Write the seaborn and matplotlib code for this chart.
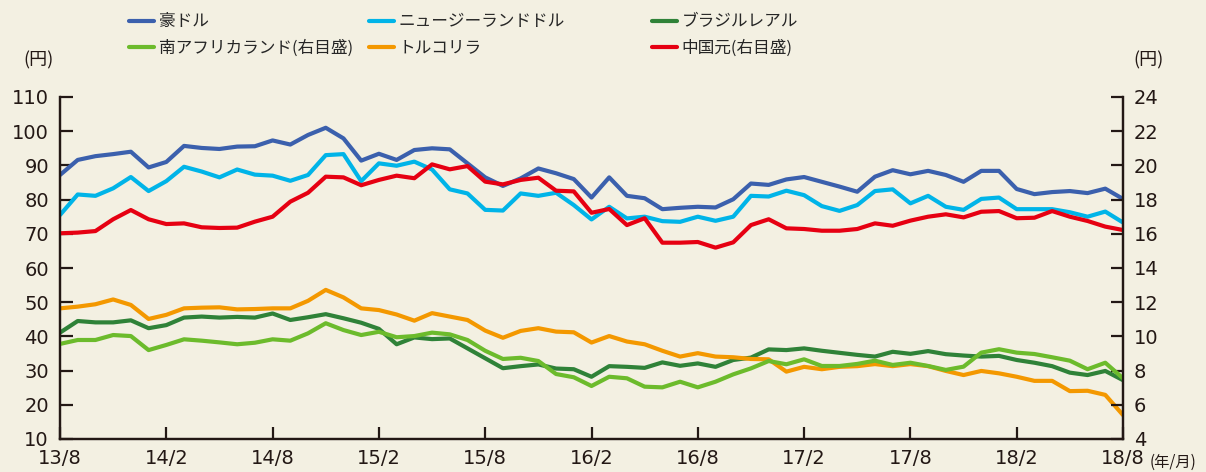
import numpy as np
import pandas as pd
import seaborn as sns
import matplotlib.pyplot as plt

# 月次データ 2013/8 - 2018/8
months = pd.date_range('2013-08-01', periods=61, freq='MS')
tick_labels = ['13/8', '14/2', '14/8', '15/2', '15/8', '16/2', '16/8', '17/2', '17/8', '18/2', '18/8']

# 左目盛（円）
aud = [87.2, 91.6, 92.7, 93.3, 94.0, 89.4, 91.0, 95.7, 95.1, 94.8,
       95.5, 95.6, 97.3, 96.1, 98.9, 101.0, 97.9, 91.4, 93.4, 91.6,
       94.5, 95.0, 94.7, 90.6, 86.5, 84.0, 86.2, 89.1, 87.7, 86.0,
       80.6, 86.5, 81.1, 80.4, 77.2, 77.6, 77.9, 77.7, 80.1, 84.7,
       84.3, 85.9, 86.6, 85.2, 83.8, 82.3, 86.7, 88.6, 87.4, 88.4,
       87.2, 85.2, 88.4, 88.4, 83.1, 81.6, 82.2, 82.5, 81.9, 83.2, 80.2]
nzd = [75.5, 81.5, 81.1, 83.3, 86.6, 82.5, 85.4, 89.6, 88.2, 86.5,
       88.8, 87.3, 87.0, 85.5, 87.2, 93.0, 93.3, 85.4, 90.6, 89.9,
       91.1, 88.8, 83.0, 81.8, 77.0, 76.8, 81.8, 81.1, 82.0, 78.4,
       74.2, 77.9, 74.5, 75.0, 73.7, 73.5, 75.0, 73.8, 75.0, 81.1,
       80.9, 82.6, 81.3, 78.1, 76.7, 78.4, 82.5, 83.0, 78.9, 81.1,
       77.9, 77.0, 80.2, 80.6, 77.2, 77.2, 77.2, 76.3, 75.0, 76.5, 73.3]
brl = [41.1, 44.5, 44.1, 44.1, 44.7, 42.4, 43.3, 45.5, 45.8, 45.5,
       45.7, 45.5, 46.7, 44.8, 45.6, 46.5, 45.3, 44.0, 42.2, 37.7,
       39.7, 39.2, 39.4, 36.5, 33.6, 30.7, 31.3, 31.8, 30.6, 30.4,
       28.2, 31.3, 31.1, 30.8, 32.4, 31.4, 32.1, 31.1, 33.1, 33.8,
       36.2, 36.0, 36.5, 35.8, 35.2, 34.6, 34.1, 35.5, 34.9, 35.7,
       34.8, 34.4, 34.1, 34.3, 33.1, 32.3, 31.3, 29.4, 28.7, 29.9, 27.2]
tryl = [48.2, 48.7, 49.4, 50.8, 49.2, 45.1, 46.3, 48.2, 48.4, 48.5,
        47.9, 48.0, 48.2, 48.2, 50.4, 53.6, 51.4, 48.2, 47.7, 46.4,
        44.6, 46.8, 45.8, 44.8, 41.7, 39.6, 41.6, 42.4, 41.4, 41.2,
        38.2, 40.1, 38.5, 37.7, 35.8, 34.1, 35.1, 34.1, 33.9, 33.4,
        33.3, 29.7, 31.1, 30.4, 31.1, 31.3, 31.9, 31.3, 31.9, 31.3,
        29.9, 28.7, 29.9, 29.2, 28.2, 27.0, 27.0, 24.0, 24.1, 22.9, 17.0]

# 右目盛（円）
zar = [9.56, 9.79, 9.79, 10.08, 10.02, 9.20, 9.50, 9.83, 9.75, 9.65,
       9.54, 9.63, 9.83, 9.75, 10.18, 10.77, 10.37, 10.08, 10.27, 9.95,
       10.02, 10.22, 10.12, 9.79, 9.16, 8.68, 8.75, 8.56, 7.80, 7.61,
       7.10, 7.64, 7.55, 7.06, 7.02, 7.35, 7.02, 7.35, 7.78, 8.13,
       8.56, 8.37, 8.66, 8.27, 8.27, 8.39, 8.58, 8.33, 8.46, 8.27,
       8.04, 8.23, 9.05, 9.25, 9.05, 8.97, 8.78, 8.58, 8.08, 8.46, 7.55]
cny = [16.03, 16.07, 16.16, 16.85, 17.39, 16.85, 16.57, 16.61, 16.38, 16.34,
       16.36, 16.71, 17.00, 17.88, 18.40, 19.34, 19.30, 18.84, 19.15, 19.40,
       19.25, 20.06, 19.77, 19.96, 19.05, 18.89, 19.15, 19.28, 18.52, 18.48,
       17.23, 17.45, 16.51, 16.91, 15.48, 15.48, 15.52, 15.19, 15.50, 16.51,
       16.85, 16.32, 16.28, 16.18, 16.18, 16.28, 16.61, 16.47, 16.77, 17.00,
       17.14, 16.96, 17.29, 17.33, 16.91, 16.94, 17.33, 17.00, 16.75, 16.42, 16.22]

bg = '#F3F0E2'
ink = '#231815'
sns.set_style('white')
plt.rcParams['font.family'] = ['Noto Sans CJK JP', 'DejaVu Sans']

idx = np.arange(len(months))

fig = plt.figure(figsize=(12.06, 4.72), dpi=100, facecolor=bg)
ax = fig.add_axes([60 / 1206, 1 - 439 / 472, 1063 / 1206, 342 / 472])
ax.set_facecolor(bg)
ax2 = ax.twinx()

lw = 3
sns.lineplot(x=idx, y=aud, ax=ax, color='#3B60AD', lw=lw, label='豪ドル')
sns.lineplot(x=idx, y=nzd, ax=ax, color='#00B4E8', lw=lw, label='ニュージーランドドル')
sns.lineplot(x=idx, y=brl, ax=ax, color='#2F8238', lw=lw, label='ブラジルレアル')
sns.lineplot(x=idx, y=tryl, ax=ax, color='#F39800', lw=lw, label='トルコリラ')
sns.lineplot(x=idx, y=zar, ax=ax2, color='#6CBB2C', lw=lw, label='南アフリカランド(右目盛)')
sns.lineplot(x=idx, y=cny, ax=ax2, color='#E60012', lw=lw, label='中国元(右目盛)')

h1, l1 = ax.get_legend_handles_labels()
h2, l2 = ax2.get_legend_handles_labels()
ax.get_legend().remove()
ax2.get_legend().remove()
hd = dict(zip(l1 + l2, h1 + h2))

# 凡例は3列、列ごとに位置を合わせる
cols = [(['豪ドル', '南アフリカランド(右目盛)'], 126),
        (['ニュージーランドドル', 'トルコリラ'], 366),
        (['ブラジルレアル', '中国元(右目盛)'], 649)]
for names, x0 in cols:
    fig.legend([hd[k] for k in names], names, loc='upper left',
               bbox_to_anchor=(x0 / 1206, 1 - 10 / 472), ncol=1, frameon=False,
               fontsize=12, handlelength=1.45, handletextpad=0.3,
               labelspacing=0.55, borderaxespad=0, borderpad=0.2)

ax.set_xlim(0, 60)
ax.set_ylim(10, 110)
ax2.set_ylim(4, 24)
ax.set_xticks(range(0, 61, 6))
ax.set_xticklabels(tick_labels)
ax.set_yticks(range(10, 111, 10))
ax2.set_yticks(range(4, 25, 2))

for a in (ax, ax2):
    a.spines['top'].set_visible(False)
    for s in ('left', 'right', 'bottom'):
        a.spines[s].set_color(ink)
        a.spines[s].set_linewidth(1.6)
    a.set_xlabel('')
    a.set_ylabel('')

ax.tick_params(axis='both', direction='in', length=9, width=1.6, color=ink,
               labelcolor=ink, labelsize=14)
ax.tick_params(axis='x', pad=7, bottom=True)
ax.tick_params(axis='y', pad=8, left=True)
ax2.tick_params(axis='y', direction='in', length=9, width=1.6, color=ink,
                labelcolor=ink, labelsize=14, pad=8, right=True)
for lab in ax.get_xticklabels() + ax.get_yticklabels() + ax2.get_yticklabels():
    lab.set_family('DejaVu Sans')

fig.text(23 / 1206, 1 - 60 / 472, '(円)', ha='left', va='center', fontsize=13, color=ink)
fig.text(1133 / 1206, 1 - 60 / 472, '(円)', ha='left', va='center', fontsize=13, color=ink)
fig.text(1150 / 1206, 1 - 462 / 472, '(年/月)', ha='left', va='center', fontsize=11, color=ink)

fig.savefig('out.png', dpi=100, facecolor=bg)
